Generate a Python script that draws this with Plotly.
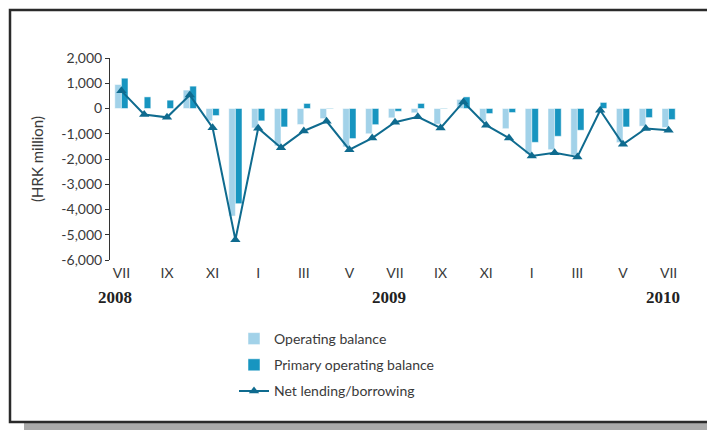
import plotly.graph_objects as go

# monthly data, Jul 2008 - Jul 2010 (HRK million)
months = [
    "2008-07", "2008-08", "2008-09", "2008-10", "2008-11", "2008-12",
    "2009-01", "2009-02", "2009-03", "2009-04", "2009-05", "2009-06",
    "2009-07", "2009-08", "2009-09", "2009-10", "2009-11", "2009-12",
    "2010-01", "2010-02", "2010-03", "2010-04", "2010-05", "2010-06",
    "2010-07",
]
operating = [950, 0, 0, 730, -490, -4260, -770, -1480, -635, -400, -1520, -1000,
             -370, -170, -620, 360, -500, -800, -1790, -1630, -1850, 0, -1350, -700, -750]
primary = [1200, 460, 330, 885, -280, -3770, -490, -730, 200, -20, -1190, -640,
           -110, 200, -20, 460, -200, -160, -1340, -1100, -860, 240, -730, -360, -440]
net_lending = [700, -240, -350, 530, -760, -5200, -780, -1550, -890, -505, -1630, -1170,
               -545, -330, -770, 260, -660, -1170, -1880, -1750, -1920, -70, -1420, -790, -860]

tick_months = months[::2]
tick_labels = ["VII", "IX", "XI", "I", "III", "V", "VII", "IX", "XI", "I", "III", "V", "VII"]
year_labels = {"2008-07": "2008", "2009-07": "2009", "2010-07": "2010"}
y_ticks = [2000, 1000, 0, -1000, -2000, -3000, -4000, -5000, -6000]

LIGHT = "#a2d2e9"
DARK = "#1795c0"
LINE = "#0f6b8f"
AXIS = "#333333"
FONT = "Lato"

W, H = 707, 430
L, R, T, B = 110, 27, 58, 170
pw, ph = W - L - R, H - T - B


def px_x(p):
    return (p - L) / pw


def px_y(p):
    return (H - B - p) / ph


fig = go.Figure()

fig.add_trace(go.Bar(x=months, y=operating, name="Operating balance",
                     marker_color=LIGHT, legendgroup="a"))
fig.add_trace(go.Bar(x=months, y=primary, name="Primary operating balance",
                     marker_color=DARK, legendgroup="b"))
fig.add_trace(go.Scatter(x=months, y=net_lending, name="Net lending/borrowing",
                         mode="lines+markers", legendgroup="c",
                         line=dict(color=LINE, width=2),
                         marker=dict(symbol="triangle-up", size=9, color=LINE)))

n = len(months)
zero_pos = (0 - min(y_ticks)) / (max(y_ticks) - min(y_ticks))
boundaries = [i + 0.5 for i in range(n)]

for m, txt in year_labels.items():
    fig.add_annotation(x=m, y=px_y(297), xref="x", yref="paper", text="<b>%s</b>" % txt,
                       showarrow=False, xshift=-6, yanchor="middle",
                       font=dict(family="Liberation Serif", size=17, color="#222222"))

# frame and its shadow
fig.add_shape(type="rect", xref="paper", yref="paper", layer="below",
              x0=px_x(24), x1=px_x(730), y0=px_y(432), y1=px_y(423),
              fillcolor="#aaaaaa", line_width=0)
fig.add_shape(type="rect", xref="paper", yref="paper",
              x0=px_x(10), x1=px_x(730), y0=px_y(422), y1=px_y(10),
              line=dict(color="#2a2a2a", width=2.5))

fig.update_layout(
    width=W, height=H,
    template="plotly_white",
    margin=dict(l=L, r=R, t=T, b=B),
    barmode="group", bargap=0.42, bargroupgap=0,
    plot_bgcolor="white", paper_bgcolor="white",
    font=dict(family=FONT, size=14, color="#3a3a3a"),
    showlegend=True,
    legend=dict(x=px_x(234), y=px_y(323), xanchor="left", yanchor="top",
                traceorder="grouped", tracegroupgap=5,
                font=dict(family=FONT, size=14, color="#3a3a3a"),
                bgcolor="rgba(0,0,0,0)"),
    xaxis=dict(type="category", categoryarray=months, range=[-0.5, n - 0.5],
               tickvals=tick_months, ticktext=tick_labels, ticks="",
               showline=False, showgrid=False, zeroline=False, ticklabelstandoff=3),
    xaxis2=dict(overlaying="x", anchor="free", position=zero_pos, range=[-0.5, n - 0.5],
                tickvals=boundaries, showticklabels=False, ticks="outside", ticklen=3,
                tickcolor=AXIS, showline=True, linecolor=AXIS, linewidth=1,
                showgrid=False, zeroline=False),
    xaxis3=dict(overlaying="x", anchor="free", position=zero_pos, range=[-0.5, n - 0.5],
                tickvals=boundaries, showticklabels=False, ticks="inside", ticklen=3,
                tickcolor=AXIS, showline=False, side="top",
                showgrid=False, zeroline=False),
    yaxis=dict(range=[min(y_ticks), max(y_ticks)], tickvals=y_ticks,
               ticktext=["{:,}".format(v) for v in y_ticks],
               ticks="outside", ticklen=4,
               tickcolor=AXIS, showline=True, linecolor=AXIS, linewidth=1,
               showgrid=False, zeroline=False,
               title=dict(text="(HRK million)", standoff=14,
                          font=dict(family=FONT, size=15, color="#3a3a3a"))),
    yaxis2=dict(overlaying="y", anchor="x", side="left", range=[min(y_ticks), max(y_ticks)],
                tickvals=y_ticks, showticklabels=False, ticks="inside", ticklen=3,
                tickcolor=AXIS, showline=False, showgrid=False, zeroline=False),
)

fig.write_html("out.html", config={"displayModeBar": False},
               post_script="document.body.style.margin='0';")
